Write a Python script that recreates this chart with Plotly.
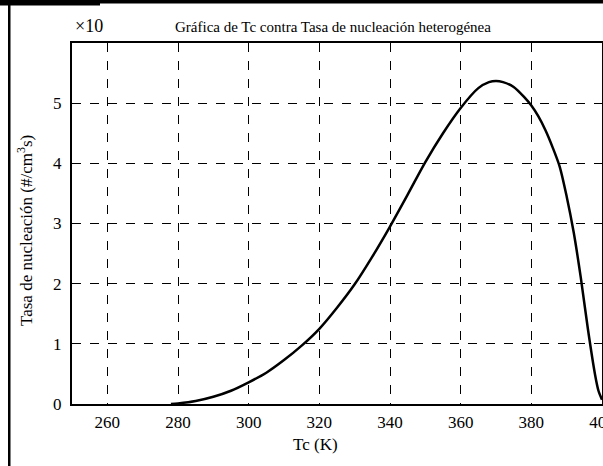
import plotly.graph_objects as go

tc = [278, 280, 285, 290, 295, 300, 305, 310, 315, 320, 325, 330, 335, 340, 345,
      350, 355, 360, 365, 368, 370, 372, 375, 378, 380, 382, 384, 386, 388, 390,
      392, 394, 396, 398, 399, 400]
rate = [0.0, 0.01, 0.05, 0.12, 0.22, 0.36, 0.52, 0.73, 0.97, 1.25, 1.6, 1.99, 2.45,
        2.95, 3.48, 4.02, 4.5, 4.92, 5.25, 5.35, 5.37, 5.35, 5.27, 5.1, 4.96, 4.78,
        4.55, 4.27, 3.95, 3.45, 2.85, 2.1, 1.25, 0.5, 0.22, 0.07]

x_ticks = [260, 280, 300, 320, 340, 360, 380, 400]
y_ticks = [0, 1, 2, 3, 4, 5]

title_text = "Gráfica de Tc contra Tasa de nucleación heterogénea"
x_label = "Tc (K)"
y_label = "Tasa de nucleación (#/cm<sup>3</sup>s)"
multiplier = "×10"

FONT = "Liberation Serif"

fig = go.Figure()
fig.add_trace(go.Scatter(x=tc, y=rate, mode="lines",
                         line=dict(color="black", width=2.5, shape="spline", smoothing=0.8),
                         hoverinfo="skip", showlegend=False))

axis_common = dict(showline=True, linecolor="black", linewidth=2, mirror=True,
                   showgrid=True, gridcolor="black", griddash="dash", gridwidth=1,
                   zeroline=False, ticks="", ticklabeloverflow="allow", automargin=False,
                   tickfont=dict(family=FONT, size=17, color="black"))

fig.update_xaxes(range=[250, 400], tickvals=x_ticks, ticktext=[str(v) for v in x_ticks],
                 ticklabelstandoff=2, **axis_common)
fig.update_yaxes(range=[0, 6], tickvals=y_ticks, ticktext=[str(v) for v in y_ticks],
                 ticklabelstandoff=5, **axis_common)

W, H = 603, 466
L, R, T, B = 72, 1, 43, 62
pw, ph = W - L - R, H - T - B

def px(xp):
    return (xp - L) / pw

def py(yp):
    return (H - B - yp) / ph

shapes = [
    dict(type="rect", xref="paper", yref="paper", x0=px(0), x1=px(603), y0=py(0), y1=py(3.5),
         fillcolor="black", line=dict(width=0), layer="above"),
    dict(type="rect", xref="paper", yref="paper", x0=px(0), x1=px(100), y0=py(0), y1=py(5.5),
         fillcolor="black", line=dict(width=0), layer="above"),
    dict(type="rect", xref="paper", yref="paper", x0=px(8), x1=px(10.5), y0=py(0), y1=py(466),
         fillcolor="black", line=dict(width=0), layer="above"),
]

annotations = [
    dict(text=multiplier, xref="paper", yref="paper", x=px(73), y=py(26),
         xanchor="left", yanchor="middle", showarrow=False,
         font=dict(family=FONT, size=18, color="black")),
    dict(text=title_text, xref="paper", yref="paper", x=px(333), y=py(27),
         xanchor="center", yanchor="middle", showarrow=False,
         font=dict(family=FONT, size=15, color="black")),
    dict(text=x_label, xref="paper", yref="paper", x=px(315), y=py(444),
         xanchor="center", yanchor="middle", showarrow=False,
         font=dict(family=FONT, size=17, color="black")),
    dict(text=y_label, xref="paper", yref="paper", x=px(25), y=py(231),
         xanchor="center", yanchor="middle", showarrow=False, textangle=-90,
         font=dict(family=FONT, size=17, color="black")),
]

fig.update_layout(
    width=W, height=H,
    margin=dict(l=L, r=R, t=T, b=B, autoexpand=False),
    paper_bgcolor="white", plot_bgcolor="white",
    font=dict(family=FONT, size=17, color="black"),
    shapes=shapes,
    annotations=annotations,
)

fig.write_html("out.html", config={"displayModeBar": False},
               post_script="document.body.style.margin='0';document.body.style.overflow='hidden';")
